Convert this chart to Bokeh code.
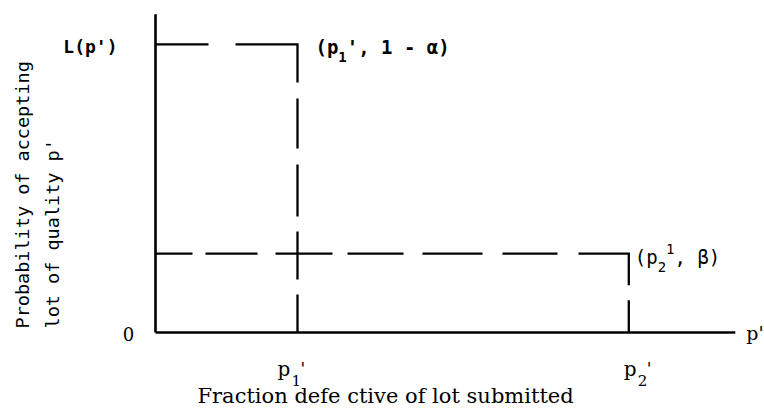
from math import pi

from bokeh.plotting import figure
from bokeh.models import Range1d, Label
from bokeh.embed import file_html
from bokeh.resources import INLINE

# Ideal operating-characteristic curve (schematic values)
P1 = 0.03        # acceptable fraction defective p1'
P2 = 0.10        # lot tolerance fraction defective p2'
ALPHA = 0.05     # producer's risk
BETA = 0.26      # consumer's risk
X_END = 0.1225   # length of the p' axis
Y_END = 1.05     # length of the L(p') axis

# Curve corner points
top_x = [0, P1, P1]
top_y = [1 - ALPHA, 1 - ALPHA, 0]
low_x = [0, P2, P2]
low_y = [BETA, BETA, 0]

# Page layout
W, H = 764, 409
ORIGIN_X_PX, ORIGIN_Y_PX = 155, 332
PX_PER_X = 4733.0
PX_PER_Y = 303.2

MONO = "DejaVu Sans Mono"
SERIF = "DejaVu Serif"
ADV = 0.602  # monospace advance per em

p = figure(
    width=W, height=H,
    x_range=Range1d(-ORIGIN_X_PX / PX_PER_X, (W - ORIGIN_X_PX) / PX_PER_X),
    y_range=Range1d(-(H - ORIGIN_Y_PX) / PX_PER_Y, ORIGIN_Y_PX / PX_PER_Y),
    x_axis_type=None, y_axis_type=None,
    output_backend="svg", toolbar_location=None,
    min_border=0, outline_line_color=None,
    background_fill_color="white", border_fill_color="white",
)
p.grid.visible = False

# Axes drawn as plain strokes from the origin
p.line([0, 0], [0, Y_END], line_color="black", line_width=2.6)
p.line([0, X_END], [0, 0], line_color="black", line_width=2.6)

# Dashed step lines of the ideal OC curve
p.line(top_x, top_y, line_color="black", line_width=2.3, line_join="miter",
       line_dash="53 27 100 16 50 16 52 15 48 15 40")
p.line(low_x, low_y, line_color="black", line_width=2.3, line_join="miter",
       line_dash="37 13 52 18 57 15 56 19 60 20 55 21 82 15 40")


def put(x, y, text, dx, dy, size, font, align="left", baseline="middle",
        angle=0.0, style="normal"):
    p.add_layout(Label(
        x=x, y=y, text=text, x_offset=dx, y_offset=dy,
        text_font=font, text_font_size=f"{size}px", text_color="black",
        text_align=align, text_baseline=baseline, angle=angle,
        text_font_style=style,
    ))


def put_runs(x, y, runs, dx, dy, font=MONO, style="normal"):
    """Place consecutive monospace runs: (text, size, raise)."""
    cx = dx
    for text, size, rise in runs:
        put(x, y, text, cx, dy + rise, size, font, style=style)
        cx += len(text) * ADV * size


# Vertical axis labels
put(0, 1 - ALPHA, "L(p')", -38, -2, 18, MONO, align="right", style="bold")
put(0, 0, "0", -27, -1, 18, SERIF, align="center")

# Corner annotations
put_runs(P1, 1 - ALPHA, [("(p", 19, 0), ("1", 14, -10), ("', 1 - α)", 19, 0)],
         18, -3, style="bold")
put_runs(P2, BETA, [("(p", 19, 0), ("2", 14, -10), ("1", 14, 8), (", β)", 19, 0)],
         6, -3)

# Tick labels under the p' axis
for px, shift, sub in [(P1, -20, "1"), (P2, -5, "2")]:
    put(px, 0, "p", shift, -36, 20, SERIF, baseline="alphabetic")
    put(px, 0, sub, shift + 14, -48, 15, SERIF, baseline="alphabetic")
    put(px, 0, "'", shift + 23, -35, 17, SERIF, baseline="alphabetic")
put(X_END, 0, "p'", 11, 0, 19, SERIF, baseline="alphabetic")

# Axis titles
put(0, 0, "Fraction defe ctive of lot submitted", 42, -63, 21, SERIF)
put(0, 0, "Probability of accepting", -133, 4, 18.5, MONO, angle=pi / 2)
put(0, 0, "lot of quality p'", -103, 4, 18.5, MONO, angle=pi / 2)

open("out.html", "w").write(file_html(p, INLINE))
